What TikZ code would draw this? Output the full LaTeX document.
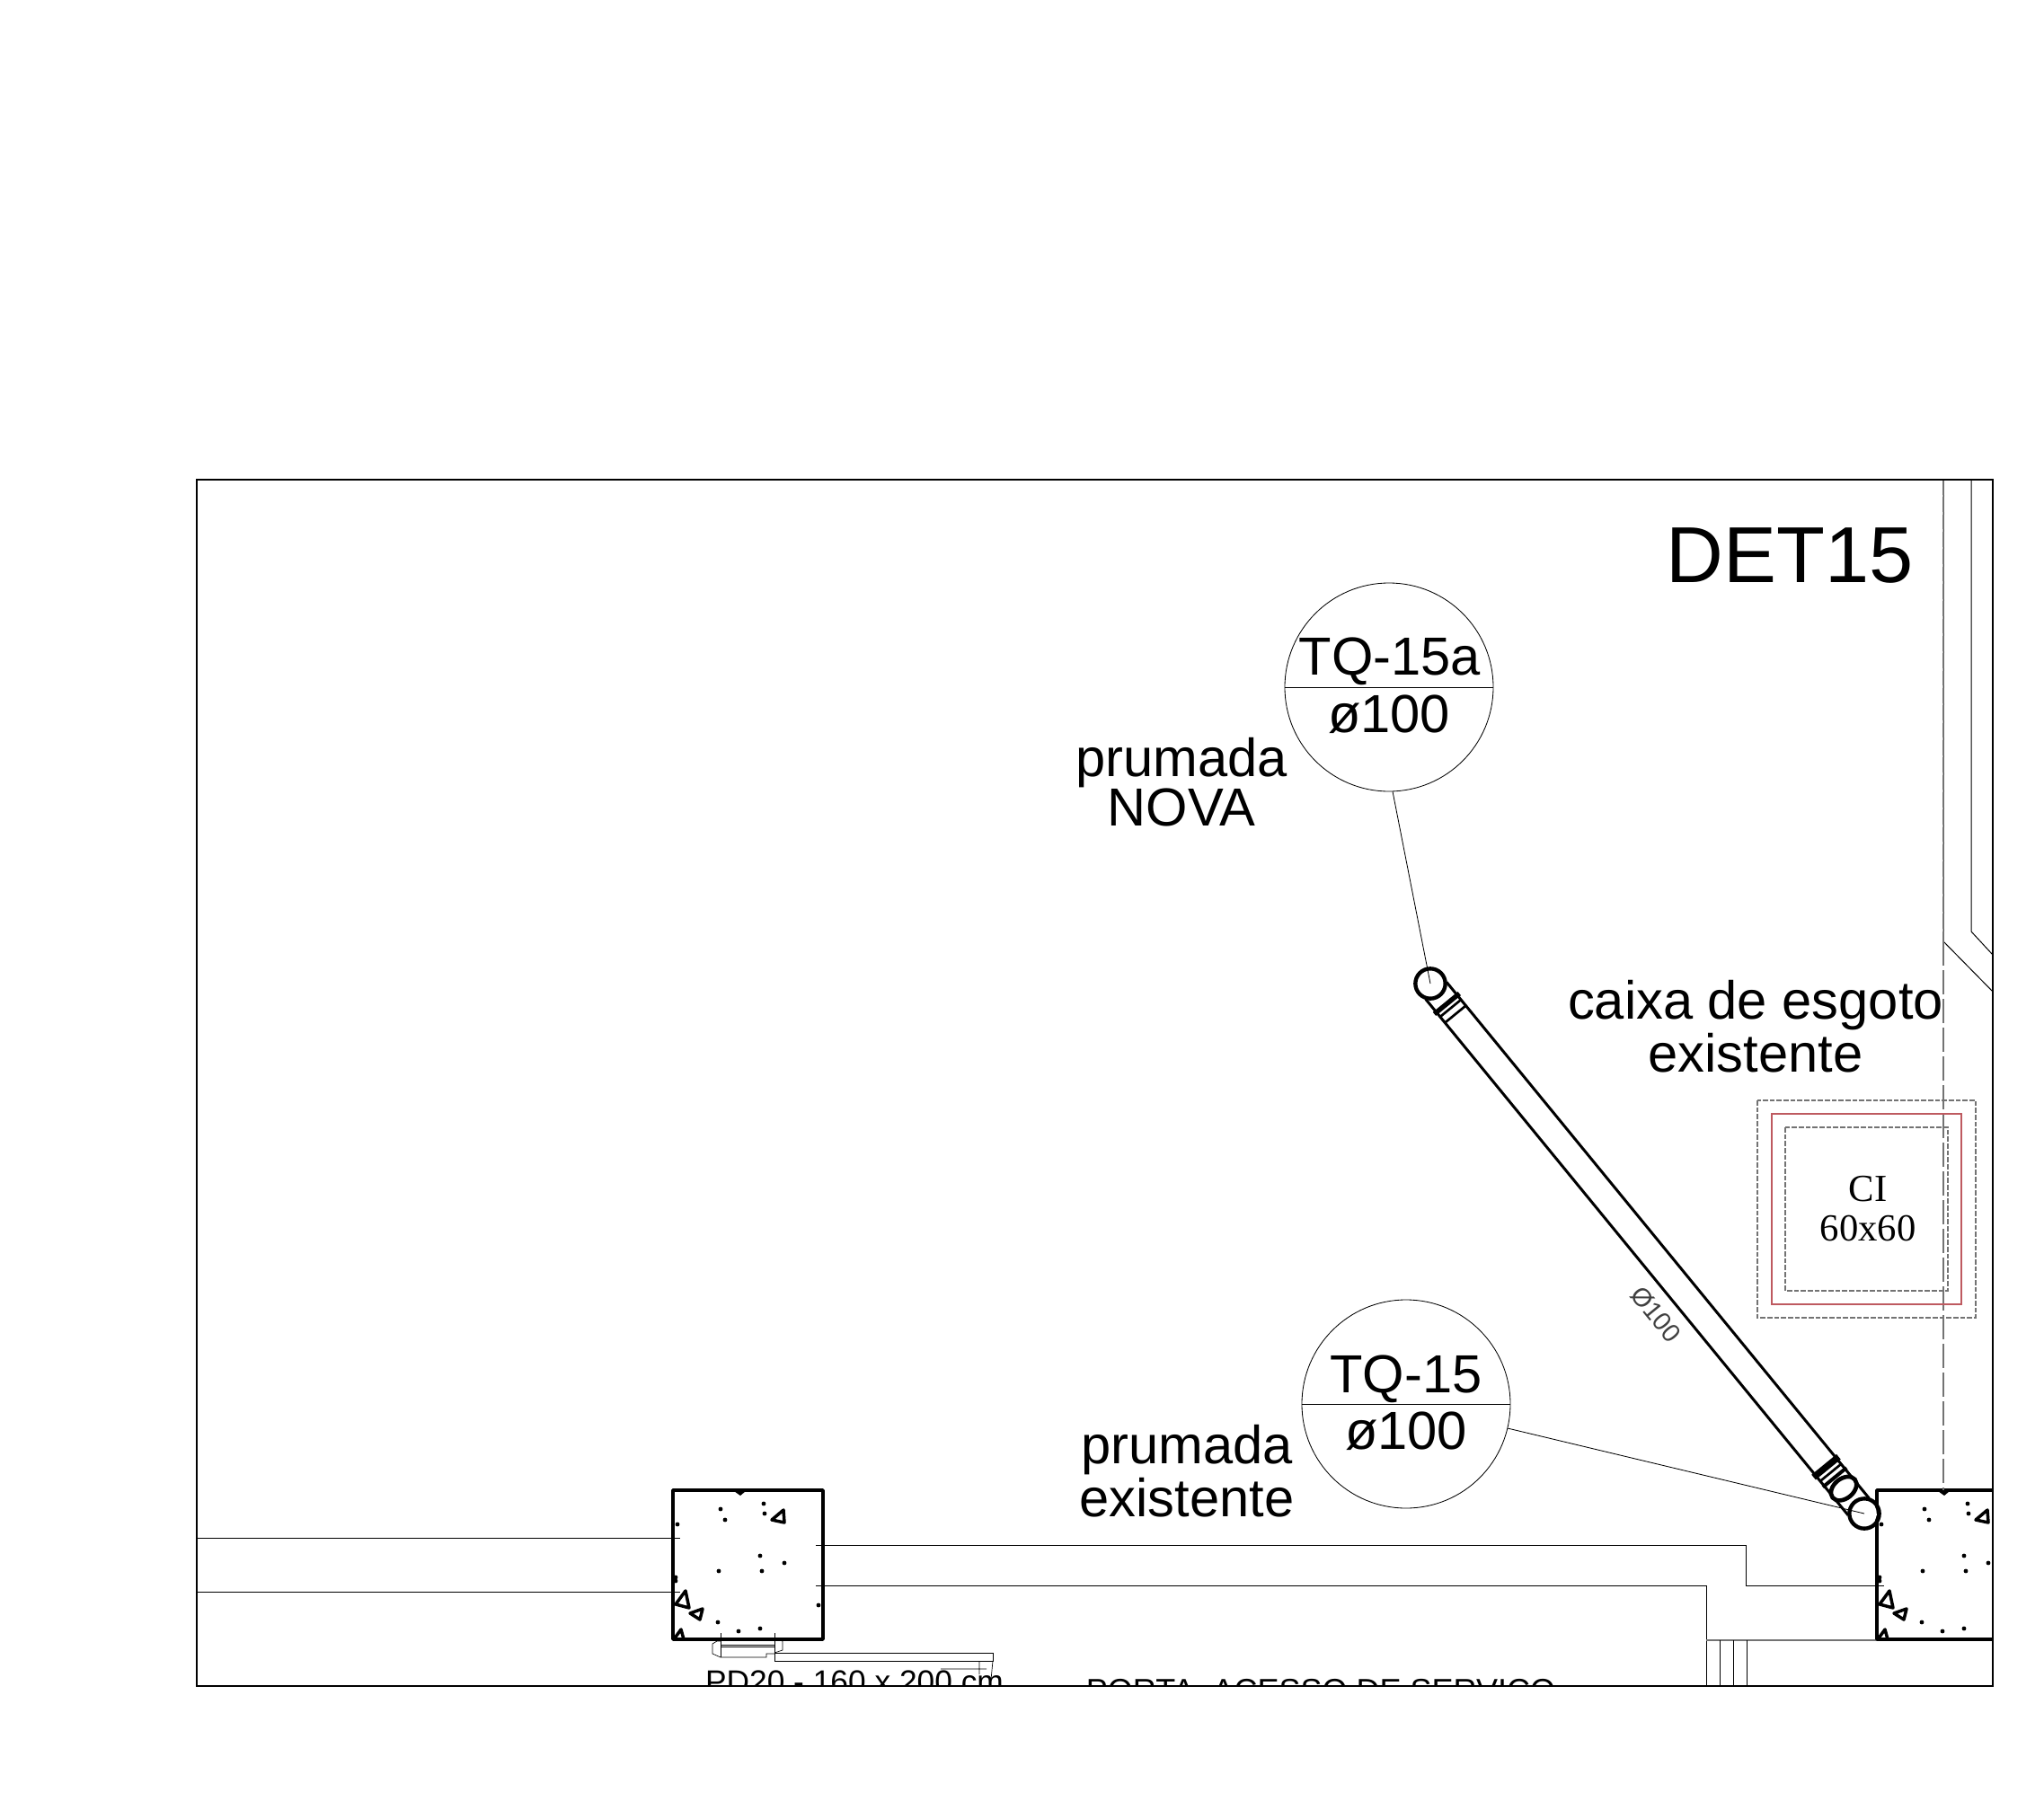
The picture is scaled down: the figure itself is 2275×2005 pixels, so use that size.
\documentclass[tikz,border=0pt]{standalone}
\usepackage{fontspec}
\setmainfont{Liberation Sans}
\newfontfamily\serifcad{Liberation Serif}
\usepackage{xcolor}
\definecolor{cadgray}{gray}{.45}
\definecolor{cadred}{RGB}{190,90,96}
\usetikzlibrary{calc}
\usetikzlibrary{positioning}
\newcommand{\pipelength}{762.5}
\newcommand{\bubblesize}{232}
\tikzset{
    x=.3pt, y=-.3pt,
    thinline/.style={line width=.3pt},
    wall/.style={draw, line width=1.05pt, line join=round},
    wedge/.style={draw, line width=1.05pt, line join=round},
    cadbox/.style={draw=cadgray, line width=.4pt, dash pattern=on 1.7pt off .6pt},
    redbox/.style={draw=cadred, line width=.5pt},
    bubble/.style={draw, circle, line width=.25pt, minimum size=\bubblesize*.3pt, inner sep=0pt},
    bigtext/.style={font=\fontsize{17.9}{16.5}\selectfont, align=center, inner sep=0pt},
    pipeline/.style={line width=.9pt},
    socket/.style={draw, circle, line width=1.3pt, minimum size=10pt, inner sep=0pt}
}
\newcommand{\pillar}[1]{
    \begin{scope}[shift={(#1)}]
        \draw[wall] (0,0) rectangle (167,166);
        \foreach \dotx/\doty in {53/21,58/33,101/15,102/26,5/38,97/73,124/81,51/90,99/90,162/128,50/147,73/157,97/154,3/97,3/101}
            \fill (\dotx,\doty) circle (2.4);
        \draw[wedge] (110,33) -- (123,22) -- (124,36) -- cycle;
        \draw[wedge] (3,127) -- (14,112) -- (18,131) -- cycle;
        \draw[wedge] (19,137) -- (33,132) -- (30,144) -- cycle;
        \draw[wedge] (1,166) -- (9,155) -- (12,166);
        \fill (68,1) -- (81,1) -- (75,6) -- cycle;
    \end{scope}
}
\begin{document}
\begin{tikzpicture}
    \useasboundingbox (0,0) rectangle (2275,2005);

    \coordinate (pipetop) at (1592,1095);
    \coordinate (pipeend) at (2075,1685);
    \coordinate (framenw) at (219,534);
    \coordinate (framese) at (2218,1877);

    \begin{scope}
        \clip (framenw) rectangle (framese);

        \draw[thinline] (219,1712) -- (757,1712);
        \draw[thinline] (219,1772) -- (757,1772);
        \draw[thinline] (908,1720) -- (1943,1720) -- (1943,1765) -- (2097,1765);
        \draw[thinline] (908,1765) -- (1899,1765) -- (1899,1877);
        \draw[cadgray, line width=.5pt] (1899,1826) -- (2218,1826);
        \foreach \stepx in {1914,1929,1944}
            \draw[line width=.2pt] (\stepx,1826) -- (\stepx,1877);

        \pillar{749,1659}
        \pillar{2089,1659}

        \draw[line width=.2pt] (802,1818) -- (802,1845);
        \draw[line width=.2pt] (802,1827) -- (798,1827) -- (793,1830) -- (793,1841) -- (802,1845) -- (853,1845) -- (853,1841) -- (862,1841);
        \draw[line width=.2pt] (802,1831) -- (862,1831) (802,1833) -- (862,1833);
        \draw[line width=.25pt] (862,1818) -- (862,1849) -- (1105,1849) -- (1105,1840) -- (862,1840);
        \draw[line width=.2pt] (862,1823) -- (871,1827) -- (871,1837) -- (862,1840);
        \draw[line width=.2pt] (1047,1858) -- (1098,1858) (1090,1849) -- (1090,1864) (1105,1849) -- (1103,1870);

        \node[anchor=base, inner sep=0pt, font=\fontsize{10.6}{12}\selectfont] (doorcode) at (951,1884) {PD20 - 160 x 200 cm};
        \node[anchor=base, inner sep=0pt, font=\fontsize{10.8}{12}\selectfont] (doorname) at (1470,1894) {PORTA\ \ ACESSO DE SERVIÇO};

        \draw[thinline] (2194,534) -- (2194,1037) -- (2218,1063);
        \draw[thinline] (2163,534) -- (2163,1048) -- (2218,1104);
        \draw[cadgray, line width=.7pt, dash pattern=on 5pt off .8pt] (2163,534) -- (2163,1048);
        \draw[cadgray, line width=.45pt, dash pattern=on 8pt off 1.6pt] (2163,1048) -- (2163,1659);
    \end{scope}

    \draw[cadbox] (1956,1225) rectangle (2199,1467);
    \draw[redbox] (1972,1240) rectangle (2183,1452);
    \draw[cadbox] (1987,1255) rectangle (2168,1437);
    \node[inner sep=0pt, font=\serifcad\fontsize{12.8}{12}\selectfont] (cilabel) at (2079,1324) {CI};
    \node[inner sep=0pt, font=\serifcad\fontsize{12.8}{12}\selectfont] (cisize) at (2079,1368) {60x60};

    \begin{scope}[shift={(pipetop)}, rotate=-50.7]
        \draw[pipeline] (10,-15) -- (\pipelength-10,-15) (10,15) -- (\pipelength-10,15);
        \draw[line width=1.6pt] (29,-18) -- (29,18);
        \draw[line width=.8pt] (35.5,-16) -- (35.5,16);
        \draw[line width=.8pt] (44,-15) -- (44,15);
        \draw[line width=2.2pt] (\pipelength-67,-18) -- (\pipelength-67,18);
        \draw[line width=.8pt] (\pipelength-59,-16) -- (\pipelength-59,16);
        \draw[line width=1.2pt] (\pipelength-52,-17) -- (\pipelength-52,17);
        \draw[line width=1.4pt, fill=white] (\pipelength-36,0) ellipse (11 and 16);
        \fill[white] (0,0) circle (14);
        \fill[white] (\pipelength,0) circle (14);
    \end{scope}

    \node[socket] (topsocket) at (pipetop) {};
    \node[socket] (endsocket) at (pipeend) {};

    \node[bubble] (tq15a) at (1546,765) {};
    \draw[line width=.25pt] (tq15a.west) -- (tq15a.east);
    \node[bigtext] (tq15atop) at (1547,736) {TQ-15a};
    \node[bigtext] (tq15abot) at (1546,795) {ø100};
    \draw[line width=.25pt] (tq15a.272) -- (pipetop);
    \node[bigtext] (prumadanova) at (1315,871) {prumada\\NOVA};

    \node[bubble] (tq15) at (1565,1563) {};
    \draw[line width=.25pt] (tq15.west) -- (tq15.east);
    \node[bigtext] (tq15top) at (1565,1535) {TQ-15};
    \node[bigtext] (tq15bot) at (1565,1593) {ø100};
    \draw[line width=.25pt] (tq15) -- (pipeend);
    \node[bigtext] (prumadaold) at (1321,1638) {prumada\\existente};

    \node[bigtext] (caixalabel) at (1954,1143) {caixa de esgoto\\existente};
    \node[inner sep=0pt, anchor=base, font=\fontsize{26.5}{28}\selectfont] (title) at (1992,648) {DET15};
    \node[inner sep=0pt, rotate=-50.7, text=black!75, font=\fontsize{8.6}{10}\selectfont] (pipedim) at (1843,1463) {Ø100};

    \draw[line width=.35pt] (framenw) rectangle (framese);
\end{tikzpicture}
\end{document}
